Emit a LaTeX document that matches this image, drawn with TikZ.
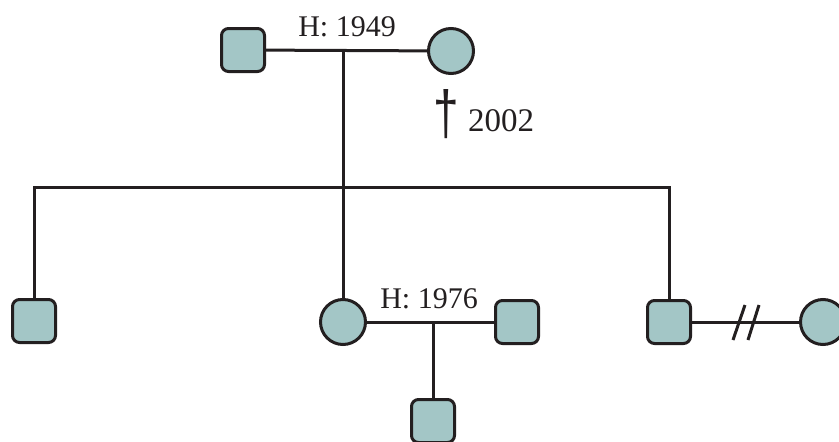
\documentclass[tikz,border=0pt]{standalone}
\usepackage{fontspec}
\setmainfont{Liberation Serif}
\newfontfamily\symfont{Liberation Sans}
\definecolor{pfill}{HTML}{A3C6C6}
\definecolor{pline}{HTML}{231F20}
\begin{document}
\begin{tikzpicture}[x=1pt,y=-1pt,
  male/.style={draw=pline,fill=pfill,line width=3pt,rounded corners=7pt,minimum size=43pt,inner sep=0pt},
  female/.style={circle,draw=pline,fill=pfill,line width=3pt,minimum size=45pt,inner sep=0pt},
  link/.style={draw=pline,line width=3pt},
  lbl/.style={text=pline,font=\fontsize{30}{34}\selectfont,inner sep=0pt}]
\useasboundingbox (0,0) rectangle (839,442);
\clip (0,0) rectangle (839,442);
% nodes
\node[male] (gf) at (243,50) {};
\node[female] (gm) at (451,51) {};
\node[male] (c1) at (34,321) {};
\node[female] (c2) at (343,322) {};
\node[male] (sp2) at (517,322) {};
\node[male] (c3) at (669,322) {};
\node[female] (sp3) at (823,322) {};
\node[male] (gc) at (433,421) {};
\coordinate (bar) at (344,187);
\coordinate (dv) at (746,323);
% connectors
\draw[link] (gf) -- (gm);
\draw[link] (c2.north) -- (c2 |- gf);
\draw[link] (c1.north) |- (bar) -| (c3.north);
\draw[link] (c2) -- (sp2);
\draw[link] (gc.north) -- (gc |- c2);
\draw[link] (c3) -- (sp3);
\draw[link] ([shift={(-13,17)}]dv) -- ([shift={(-1,-18)}]dv);
\draw[link] ([shift={(2,17)}]dv) -- ([shift={(13,-18)}]dv);
% labels
\node[lbl,anchor=base] (l1) at (347,36) {H: 1949};
\node[lbl,anchor=base] (l2) at (429,308) {H: 1976};
\node[lbl,anchor=base west,font=\fontsize{33}{36}\selectfont] (l3) at (468,131) {2002};
\node[lbl,font=\fontsize{46}{50}\symfont,yscale=1.35] (dg) at (446,114) {†};
\end{tikzpicture}
\end{document}
